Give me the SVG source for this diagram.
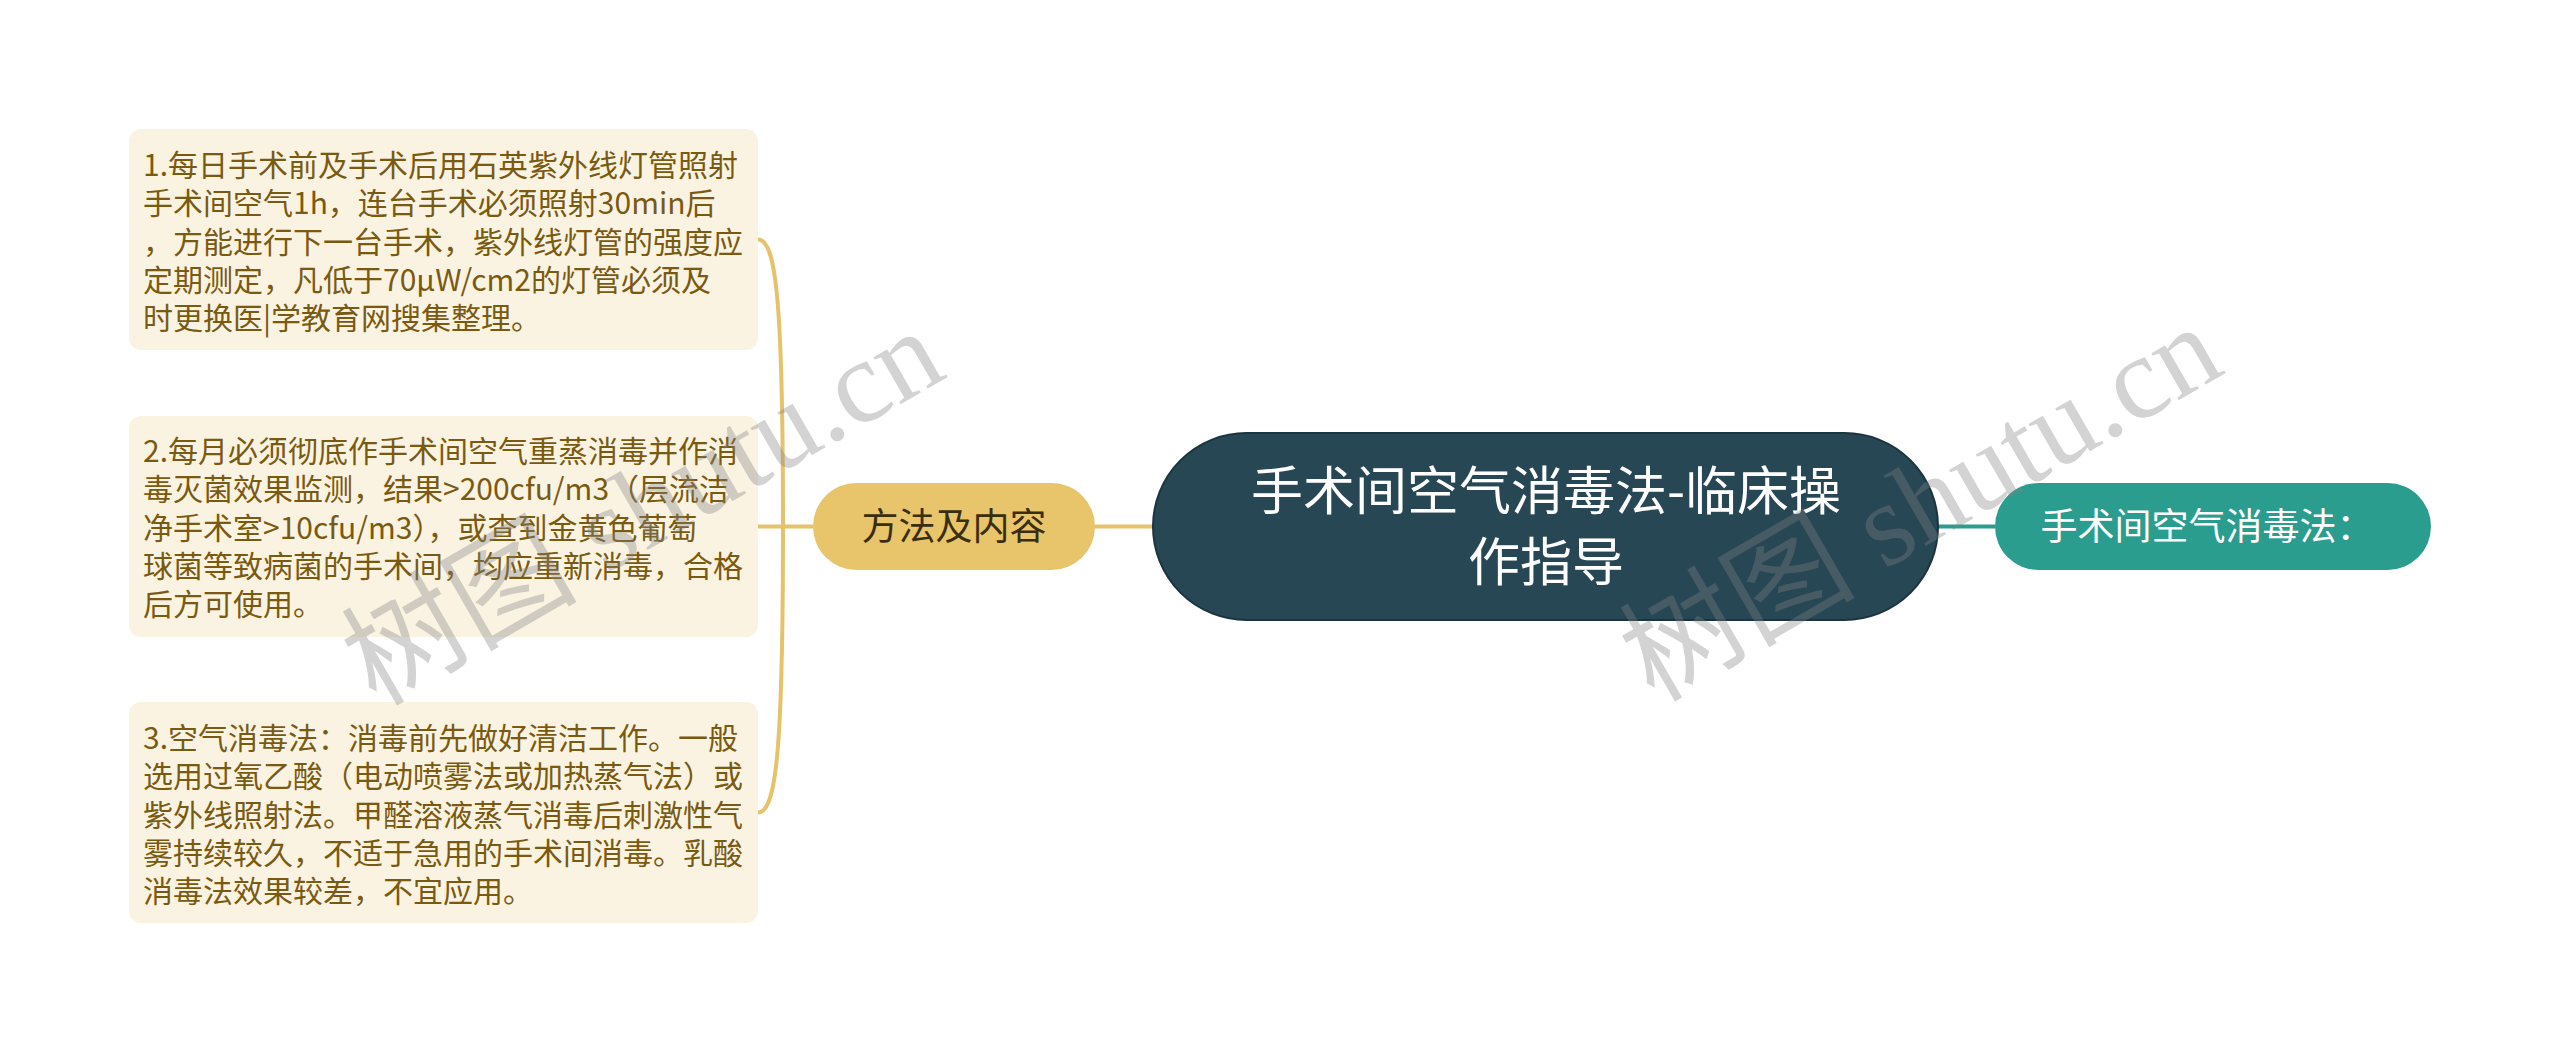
<svg xmlns="http://www.w3.org/2000/svg" width="2560" height="1053" viewBox="0 0 2560 1053">
<style>
.bg{fill:#ffffff}
.leaf rect{fill:#FAF3E2}
.leaf text{font-family:"Noto Sans CJK SC","Noto Sans",sans-serif;font-size:30px;fill:#7A5A10}
.sub rect{fill:#E8C46A}
.sub text{font-family:"Noto Sans CJK SC","Noto Sans",sans-serif;font-size:37px;fill:#3A2E10;text-anchor:middle}
.root rect{fill:#274755;stroke:#1B3540;stroke-width:2}
.root text{font-family:"Noto Sans CJK SC","Noto Sans",sans-serif;font-size:52px;fill:#ffffff;text-anchor:middle}
.right rect{fill:#2A9D8F}
.right text{font-family:"Noto Sans CJK SC","Noto Sans",sans-serif;font-size:37px;fill:#ffffff;text-anchor:middle}
.gold{fill:none;stroke:#E6C26A;stroke-width:4}
.teal{fill:none;stroke:#2A9D8F;stroke-width:4}
.wm{font-family:"Liberation Serif","Noto Sans CJK SC",serif;font-size:118px;fill:#808080;fill-opacity:0.35}
</style>
<rect class="bg" x="0" y="0" width="2560" height="1053"/>
<g id="connectors">
<path class="gold" d="M1095 526.5 L1153 526.5"/>
<path class="gold" d="M813 526.5 L758 526.5"/>
<path class="gold" d="M783 526.5 C783 300 776 239.5 758 239.5"/>
<path class="gold" d="M783 526.5 C783 753 776 812.5 758 812.5"/>
<path class="teal" d="M1938 526.5 L1995 526.5"/>
</g>
<g id="node-leaf1" class="leaf">
<rect x="129" y="129" width="629" height="221" rx="12"/>
<text x="143" y="176">1.每日手术前及手术后用石英紫外线灯管照射</text>
<text x="143" y="214">手术间空气1h，连台手术必须照射30min后</text>
<text x="143" y="252.5">，方能进行下一台手术，紫外线灯管的强度应</text>
<text x="143" y="291">定期测定，凡低于70μW/cm2的灯管必须及</text>
<text x="143" y="329">时更换医|学教育网搜集整理。</text>
</g>
<g id="node-leaf2" class="leaf">
<rect x="129" y="416" width="629" height="221" rx="12"/>
<text x="143" y="462">2.每月必须彻底作手术间空气重蒸消毒并作消</text>
<text x="143" y="500">毒灭菌效果监测，结果&gt;200cfu/m3（层流洁</text>
<text x="143" y="538.5">净手术室&gt;10cfu/m3），或查到金黄色葡萄</text>
<text x="143" y="577">球菌等致病菌的手术间，均应重新消毒，合格</text>
<text x="143" y="615">后方可使用。</text>
</g>
<g id="node-leaf3" class="leaf">
<rect x="129" y="702" width="629" height="221" rx="12"/>
<text x="143" y="749">3.空气消毒法：消毒前先做好清洁工作。一般</text>
<text x="143" y="787">选用过氧乙酸（电动喷雾法或加热蒸气法）或</text>
<text x="143" y="825.5">紫外线照射法。甲醛溶液蒸气消毒后刺激性气</text>
<text x="143" y="864">雾持续较久，不适于急用的手术间消毒。乳酸</text>
<text x="143" y="902">消毒法效果较差，不宜应用。</text>
</g>
<g id="node-methods" class="sub">
<rect x="813" y="483" width="282" height="87" rx="43.5"/>
<text x="954" y="540">方法及内容</text>
</g>
<g id="node-root" class="root">
<rect x="1153" y="433" width="785" height="187" rx="93.5"/>
<text x="1546" y="510">手术间空气消毒法-临床操</text>
<text x="1546" y="581">作指导</text>
</g>
<g id="node-right" class="right">
<rect x="1995" y="483" width="436" height="87" rx="43.5"/>
<text x="2207" y="540">手术间空气消毒法：</text>
</g>
<g id="watermarks">
<text class="wm" transform="translate(649 518) rotate(-30)" text-anchor="middle" dominant-baseline="middle">树图 shutu.cn</text>
<text class="wm" transform="translate(1927 514) rotate(-30)" text-anchor="middle" dominant-baseline="middle">树图 shutu.cn</text>
</g>
</svg>
